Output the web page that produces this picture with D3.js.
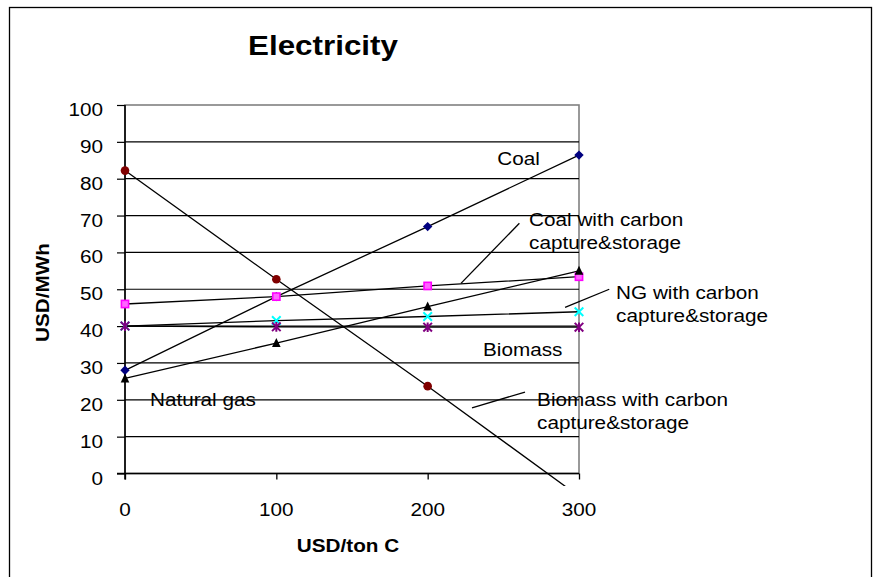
<!DOCTYPE html>
<html><head><meta charset="utf-8">
<script src="https://cdn.jsdelivr.net/npm/d3@7"></script>
<style>
html,body{margin:0;padding:0;background:#fff;}
svg{display:block;font-family:"Liberation Sans",Arial,sans-serif;}
</style></head>
<body>
<svg id="chart" width="873" height="577"></svg>
<script>
// ---- data ----
const xValues = [0, 100, 200, 300];
const coal = [28, 48, 67, 86.4];
const coalCCS = [46, 48, 50.9, 53.4];
const naturalGas = [25.8, 35.4, 45.3, 55.0];
const ngCCS = [40, 41.5, 42.6, 43.9];
const biomass = [40, 39.8, 39.7, 39.7];
const biomassCCS = [82.2, 52.7, 23.7, -6.2];
const yTicks = [0, 10, 20, 30, 40, 50, 60, 70, 80, 90, 100];
const xTicks = [0, 100, 200, 300];
const titleText = "Electricity";
const xTitle = "USD/ton C";
const yTitle = "USD/MWh";
// annotation labels (data units: x start, baseline value)
const labelTexts = ["Coal", "Coal with carbon", "capture&storage", "NG with carbon", "capture&storage",
  "Biomass", "Biomass with carbon", "capture&storage", "Natural gas"];
const labelX = [246, 267, 267, 324.5, 324.5, 236.6, 272.3, 272.3, 16.5];
const labelY = [83.7, 67.2, 61.0, 47.4, 41.1, 32.0, 18.4, 12.2, 18.3];
// leader lines (data units)
const leaderX1 = [260.6, 320, 264.3];
const leaderY1 = [67.9, 50.0, 22.1];
const leaderX2 = [222, 290.8, 229.3];
const leaderY2 = [51.6, 45.1, 17.8];

const series = [
  {name: "Coal", values: coal, color: "#000080", marker: "diamond"},
  {name: "Coal with carbon capture&storage", values: coalCCS, color: "#FF00FF", marker: "square"},
  {name: "Natural gas", values: naturalGas, color: "#000000", marker: "triangle"},
  {name: "NG with carbon capture&storage", values: ngCCS, color: "#00FFFF", marker: "x"},
  {name: "Biomass", values: biomass, color: "#800080", marker: "star"},
  {name: "Biomass with carbon capture&storage", values: biomassCCS, color: "#800000", marker: "circle"}
];

// ---- layout ----
const svg = d3.select("#chart");
const pLeft = 125, pRight = 579, pTop = 105, pBottom = 473.5;
const x = d3.scaleLinear().domain([0, 300]).range([pLeft, pRight]);
const y = d3.scaleLinear().domain([0, 100]).range([pBottom, pTop]);
const SX = 1.12;

function txt(g, px, py, s, size, weight, anchor, rot) {
  return g.append("text")
    .attr("transform", `translate(${px},${py})` + (rot ? ` rotate(${rot})` : "") + ` scale(${SX},1)`)
    .attr("font-size", size).attr("font-weight", weight || "normal")
    .attr("text-anchor", anchor || "start").attr("fill", "#000").text(s);
}

// outer frame
svg.append("rect").attr("x", 9.5).attr("y", 7.5).attr("width", 862).attr("height", 620)
  .attr("fill", "none").attr("stroke", "#000").attr("stroke-width", 1.3);

// title
txt(svg, 323, 55, titleText, 28, "bold", "middle");

// plot border (gray)
svg.append("rect").attr("x", pLeft).attr("y", pTop).attr("width", pRight - pLeft).attr("height", pBottom - pTop)
  .attr("fill", "none").attr("stroke", "#808080").attr("stroke-width", 1.6);

// gridlines
svg.append("g").selectAll("line").data(yTicks.filter(d => d > 0 && d < 100)).join("line")
  .attr("x1", pLeft).attr("x2", pRight).attr("y1", d => y(d)).attr("y2", d => y(d))
  .attr("stroke", "#000").attr("stroke-width", 1.2);

// y axis
const yAxis = svg.append("g").attr("transform", `translate(${pLeft},0)`)
  .call(d3.axisLeft(y).tickValues(yTicks).tickSize(8).tickFormat(""));
yAxis.select(".domain").remove();
yAxis.selectAll(".tick line").attr("stroke", "#000").attr("stroke-width", 1.2);
svg.append("line").attr("x1", pLeft).attr("x2", pLeft).attr("y1", pTop).attr("y2", pBottom + 6)
  .attr("stroke", "#000").attr("stroke-width", 1.6);
yTicks.forEach(v => txt(svg, 103, y(v) + 11, String(v), 18.5, "normal", "end"));

// x axis
const xAxis = svg.append("g").attr("transform", `translate(0,${pBottom})`)
  .call(d3.axisBottom(x).tickValues(xTicks).tickSize(6).tickFormat(""));
xAxis.select(".domain").remove();
xAxis.selectAll(".tick line").attr("stroke", "#000").attr("stroke-width", 1.3);
svg.append("line").attr("x1", pLeft - 8).attr("x2", pRight).attr("y1", pBottom).attr("y2", pBottom)
  .attr("stroke", "#000").attr("stroke-width", 1.6);
xTicks.forEach(v => txt(svg, x(v), 516, String(v), 18.5, "normal", "middle"));

// axis titles
txt(svg, 348, 552, xTitle, 18.5, "bold", "middle");
txt(svg, 49, 292.5, yTitle, 18.5, "bold", "middle", -90);

// clip for series
svg.append("clipPath").attr("id", "clip").append("rect")
  .attr("x", 0).attr("y", 0).attr("width", 873).attr("height", y(-3.4));

const gS = svg.append("g").attr("clip-path", "url(#clip)");
const line = d3.line().x((d, i) => x(xValues[i])).y(d => y(d));
series.forEach(s => {
  gS.append("path").datum(s.values).attr("d", line)
    .attr("fill", "none").attr("stroke", "#000").attr("stroke-width", 1.3);
});
series.forEach(s => {
  const g = gS.append("g");
  s.values.forEach((v, i) => {
    const cx = x(xValues[i]), cy = y(v);
    const m = g.append("g").attr("transform", `translate(${cx},${cy})`);
    if (s.marker === "diamond") {
      m.append("path").attr("d", "M0,-4.7L4.7,0L0,4.7L-4.7,0Z").attr("fill", s.color);
    } else if (s.marker === "square") {
      m.append("rect").attr("x", -3.6).attr("y", -3.6).attr("width", 7.2).attr("height", 7.2)
        .attr("fill", "#ff66ff").attr("stroke", s.color).attr("stroke-width", 1.6);
    } else if (s.marker === "triangle") {
      m.append("path").attr("d", "M0,-5L4.3,4L-4.3,4Z").attr("fill", s.color);
    } else if (s.marker === "x") {
      m.append("path").attr("d", "M-4.3,-4.3L4.3,4.3M-4.3,4.3L4.3,-4.3")
        .attr("stroke", s.color).attr("stroke-width", 2);
    } else if (s.marker === "star") {
      m.append("path").attr("d", "M-4.3,-4.3L4.3,4.3M-4.3,4.3L4.3,-4.3M0,-4.8L0,4.8")
        .attr("stroke", s.color).attr("stroke-width", 2);
    } else if (s.marker === "circle") {
      m.append("circle").attr("r", 4.3).attr("fill", s.color);
    }
  });
});

// leader lines
leaderX1.forEach((d, i) => {
  svg.append("line").attr("x1", x(d)).attr("y1", y(leaderY1[i]))
    .attr("x2", x(leaderX2[i])).attr("y2", y(leaderY2[i]))
    .attr("stroke", "#000").attr("stroke-width", 1.3);
});

// labels
labelTexts.forEach((t, i) => txt(svg, x(labelX[i]), y(labelY[i]), t, 18.5, "normal", "start"));
</script>
</body></html>
